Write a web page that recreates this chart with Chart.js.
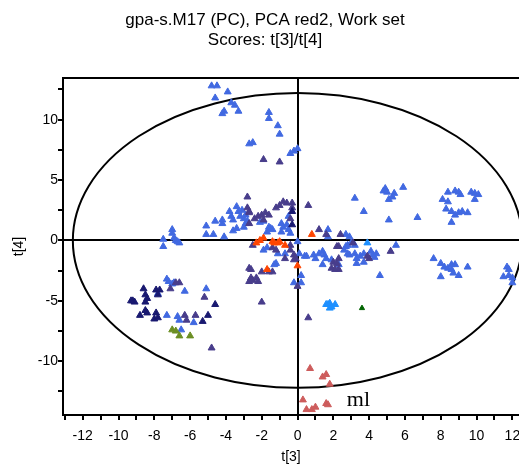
<!DOCTYPE html>
<html>
<head>
<meta charset="utf-8">
<script src="https://cdn.jsdelivr.net/npm/chart.js@4"></script>
<style>html,body{margin:0;padding:0;background:#fff}</style>
</head>
<body>
<canvas id="myChart" width="519" height="473"></canvas>
<script>
// scores [t[3], t[4]], one list per marker colour
const blueScores = [
  [-4.8,12.8],[-4.5,12.8],[-3.9,12.3],[-4.6,11.8],[-3.7,11.4],[-3.5,11.2],[-3.3,10.7],[-4.2,10.5],[-4.1,10.7],
  [-1.6,10.6],[-1.6,10.1],[-1.1,9.5],[-1.0,8.8],[-2.7,8.0],[-2.5,8.1],[-0.2,7.4],[0.0,7.6],[-0.4,7.2],
  [-5.1,1.2],[-5.1,0.5],[-4.7,0.5],[-4.6,1.6],[-4.2,1.4],[-4.2,1.7],[-4.1,0.3],[-3.8,2.4],[-3.7,2.0],[-3.6,1.7],
  [-3.4,2.8],[-3.3,2.4],[-3.2,2.0],[-3.0,1.8],[-2.9,1.4],[-3.6,0.8],[-3.4,1.0],[-2.1,1.5],[-1.9,1.6],
  [-1.5,1.0],[-0.9,1.4],[-0.8,1.1],[-0.6,1.3],[-0.5,0.9],[-0.9,0.7],[-1.4,0.9],[-1.6,1.1],[-1.7,0.7],[-0.5,2.0],
  [-0.4,0.6],[-3.1,2.5],[-2.9,2.1],[-2.8,1.6],[-3.0,1.1],
  [-7.0,0.9],[-7.0,0.6],[-6.9,0.2],[-6.8,0.0],[-6.7,-0.1],[-6.6,-0.2],[-7.5,0.1],[-7.5,-0.5],
  [1.7,0.9],[1.7,0.3],[2.7,0.5],[2.9,0.3],[3.2,3.5],[3.7,2.4],[4.8,4.1],[4.9,4.3],[5.0,4.0],[5.3,3.6],[5.1,3.4],
  [5.4,3.9],[5.9,4.4],[5.1,1.7],[6.7,1.9],[8.4,4.0],[8.8,4.1],[9.0,4.0],[9.1,3.8],[8.1,3.4],[8.4,3.2],[8.3,2.6],
  [8.6,2.4],[8.8,2.1],[9.0,2.3],[9.2,2.4],[9.5,2.3],[8.6,1.5],[9.7,4.0],[9.9,3.9],[10.1,3.8],[9.9,3.4],
  [7.6,-1.5],[8.0,-1.9],[8.2,-2.2],[8.4,-2.3],[8.6,-2.4],[8.8,-2.0],[8.7,-2.7],[8.0,-3.0],[9.0,-2.9],[9.5,-2.2],[8.6,-2.0],
  [11.7,-2.2],[11.8,-2.4],[11.5,-3.0],[11.8,-2.9],[12.0,-3.1],[12.0,-3.5],
  [-1.9,-0.8],[-1.7,-0.6],[-1.1,-1.1],[-0.7,-1.1],[-1.3,-2.0],[-1.2,-1.9],[0.2,-2.9],[-0.2,-3.5],[0.2,-3.5],
  [0.0,-0.1],[0.1,-1.1],[0.4,-1.3],[0.9,-1.2],[1.0,-1.5],[1.2,-1.1],[1.4,-0.9],[1.5,-1.2],[2.7,-0.5],[2.8,-0.4],
  [3.0,-0.2],[3.2,-0.4],[2.9,-1.2],[3.2,-1.1],[3.3,-1.5],[3.5,-1.3],[3.7,-1.1],[2.6,-0.8],[2.8,-1.1],[4.1,-0.9],
  [4.2,-1.2],[4.4,-1.1],[4.3,-1.4],[5.5,-0.4],[3.7,-1.8],[3.3,-1.9],[2.3,-2.0],[1.9,-1.6],[4.6,-2.9],[0.5,-1.3],
  [1.6,-1.5],[1.4,-2.0],
  [-7.2,-3.4],[-7.0,-3.6],[-7.3,-3.2],[-6.9,-3.5],[-6.3,-4.2],[-5.1,-4.0],[-7.3,-6.2],[-6.7,-6.3],[-6.6,-6.6],
  [-5.8,-6.8],[-6.5,-7.4],[-7.8,-4.4]
];
const purpleScores = [
  [-1.9,6.7],[-1.0,6.5],[-2.8,3.6],[-2.7,2.3],[-2.7,1.4],[-2.4,1.8],[-2.2,2.0],[-2.0,2.1],[-1.8,2.3],[-1.6,2.1],
  [-1.9,1.7],[-2.7,2.4],[-2.8,2.7],[-1.2,2.7],[-1.0,2.9],[-0.8,3.2],[-0.6,3.1],[-0.3,3.1],[-0.3,2.7],[-0.4,1.8],
  [0.6,2.9],[1.2,0.9],[1.6,0.5],[2.4,0.5],[-2.5,-0.4],[-0.4,-0.4],[-1.4,-0.6],[-1.2,-0.8],[-0.4,-0.8],[-0.2,-1.2],
  [-0.1,-1.5],[-0.2,-1.6],[-0.7,-1.5],[-2.0,-2.6],[-1.6,-2.6],[-1.4,-2.6],[-2.7,-2.3],[-2.6,-2.4],[-2.6,-3.1],
  [-2.7,-3.4],[-2.5,-3.3],[-2.3,-3.1],[-2.2,-3.4],[0.0,-3.8],[2.0,-1.8],[2.2,-1.9],[2.3,-1.5],[1.9,-2.3],[2.3,-2.4],
  [2.1,-2.4],[2.2,-0.5],[2.3,-0.5],[3.1,-0.2],[4.0,-1.5],[3.9,-1.3],[5.2,-0.9],[0.6,-6.4],[-4.8,-8.9],
  [-7.1,-4.0],[-6.6,-3.5],[-6.8,-3.5],[-5.2,-4.7],[-6.3,-6.2],[-6.2,-6.6],[-5.7,-6.2],[-2.0,-5.1]
];
const navyScores = [
  [-8.6,-4.0],[-7.9,-4.1],[-7.7,-4.1],[-7.8,-4.5],[-8.5,-4.5],[-8.4,-4.8],[-8.5,-5.1],[-9.2,-5.0],[-9.1,-5.1],
  [-9.3,-5.0],[-4.6,-5.3],[-8.8,-6.2],[-8.5,-5.8],[-8.4,-6.0],[-7.9,-6.0],[-8.0,-6.5],[-7.8,-6.4],[-5.3,-6.7],
  [-5.0,-6.2],[-0.3,2.4],[-0.3,1.3]
];
const orangeScores = [
  [-2.3,-0.2],[-2.1,0.0],[-1.9,0.2],[-1.4,-0.1],[-1.3,-0.2],[-1.1,-0.2],[-1.0,-0.1],[-0.7,-0.4],[0.8,0.5],
  [0.0,-2.1],[-1.7,-2.4]
];
const skyScores = [[3.9,-0.2],[1.7,-5.3],[1.8,-5.6],[1.9,-5.5],[2.1,-5.3],[1.8,-5.2],[1.6,-5.3]];
const greenScores = [[3.6,-5.6]];
const oliveScores = [[-7.0,-7.4],[-6.8,-7.5],[-6.6,-7.9],[-6.0,-7.9]];
const redScores = [
  [0.7,-10.6],[1.4,-11.3],[1.6,-11.1],[1.8,-11.9],[0.3,-13.2],[0.5,-14.0],[0.8,-14.0],[1.0,-13.8],[1.6,-13.5],[1.7,-13.6]
];

const xLabels = [-12, -10, -8, -6, -4, -2, 0, 2, 4, 6, 8, 10, 12];
const yLabels = [-10, -5, 0, 5, 10];
const titleLines = ['gpa-s.M17 (PC), PCA red2, Work set', 'Scores: t[3]/t[4]'];
// Hotelling T2 ellipse half axes (t[3], t[4])
const ellipseA = 12.55;
const ellipseB = 12.2;
// "ml" label position (t[3], t[4])
const mlLabel = {text: 'ml', x: 2.75, y: -13.7};

const toXY = arr => arr.map(p => ({x: p[0], y: p[1]}));

function series(data, color, r) {
  return {
    data: toXY(data),
    pointStyle: 'triangle',
    pointRadius: r || 4,
    pointBackgroundColor: color,
    pointBorderColor: color,
    pointBorderWidth: 1
  };
}

const frame = {
  id: 'frame',
  beforeDatasetsDraw(chart) {
    const {ctx, chartArea: a, scales: {x, y}} = chart;
    const cx = x.getPixelForValue(0), cy = y.getPixelForValue(0);
    ctx.save();
    ctx.strokeStyle = '#000';
    ctx.lineWidth = 2;
    ctx.beginPath();
    ctx.ellipse(cx, cy, x.getPixelForValue(ellipseA) - cx, cy - y.getPixelForValue(ellipseB), 0, 0, Math.PI * 2);
    ctx.stroke();
    ctx.beginPath();
    ctx.moveTo(a.left, a.top);
    ctx.lineTo(a.right, a.top);
    ctx.stroke();
    ctx.restore();
  },
  afterDraw(chart) {
    const {ctx, scales: {x, y}} = chart;
    ctx.save();
    ctx.fillStyle = '#000';
    ctx.textAlign = 'center';
    ctx.textBaseline = 'middle';
    ctx.font = '17px "Liberation Sans", Arial, sans-serif';
    ctx.fillText(titleLines[0], 265, 20);
    ctx.fillText(titleLines[1], 265, 40);
    ctx.textAlign = 'left';
    ctx.textBaseline = 'alphabetic';
    ctx.font = '22px "Liberation Serif", "Times New Roman", serif';
    ctx.fillText(mlLabel.text, x.getPixelForValue(mlLabel.x), y.getPixelForValue(mlLabel.y));
    ctx.restore();
  }
};

const axisFont = {family: '"Liberation Sans", Arial, sans-serif', size: 14};

const ctx = document.getElementById('myChart');
const myChart = new Chart(ctx, {
  type: 'scatter',
  data: {
    datasets: [
      series(orangeScores, '#FF4500'),
      series(skyScores, '#1E90FF'),
      series(greenScores, '#006400', 3),
      series(oliveScores, '#6B8E23'),
      series(redScores, '#CD5C5C'),
      series(navyScores, '#191970'),
      series(purpleScores, '#483D8B'),
      series(blueScores, '#4169E1')
    ]
  },
  options: {
    responsive: false,
    animation: false,
    devicePixelRatio: 1,
    layout: {autoPadding: false, padding: {top: 78, left: 0, right: 0, bottom: 0}},
    plugins: {
      legend: {display: false},
      tooltip: {enabled: false}
    },
    scales: {
      x: {
        type: 'linear',
        min: -13.1,
        max: 12.37,
        afterFit: s => { s.height = 58; s.paddingLeft = 0; s.paddingRight = 0; },
        border: {display: true, color: '#000', width: 2},
        grid: {
          color: c => c.tick && c.tick.value === 0 ? '#000' : 'rgba(0,0,0,0)',
          tickColor: '#000',
          lineWidth: 2,
          tickLength: 5
        },
        ticks: {
          stepSize: 1,
          includeBounds: false,
          autoSkip: false,
          maxRotation: 0,
          padding: 8,
          color: '#000',
          font: axisFont,
          callback: v => xLabels.includes(v) ? String(v) : ''
        },
        title: {display: true, text: 't[3]', color: '#000', font: axisFont, padding: {top: 0, bottom: 7}}
      },
      y: {
        type: 'linear',
        min: -14.45,
        max: 13.45,
        afterFit: s => { s.width = 63; s.paddingTop = 0; s.paddingBottom = 0; },
        border: {display: true, color: '#000', width: 2},
        grid: {
          color: c => c.tick && c.tick.value === 0 ? '#000' : 'rgba(0,0,0,0)',
          tickColor: '#000',
          lineWidth: 2,
          tickLength: 5
        },
        ticks: {
          stepSize: 2.5,
          includeBounds: false,
          autoSkip: false,
          padding: 0,
          color: '#000',
          font: axisFont,
          callback: v => yLabels.includes(v) ? String(v) : ''
        },
        title: {display: true, text: 't[4]', color: '#000', font: axisFont, padding: {top: 11, bottom: 0}}
      }
    }
  },
  plugins: [frame]
});
</script>
</body>
</html>
